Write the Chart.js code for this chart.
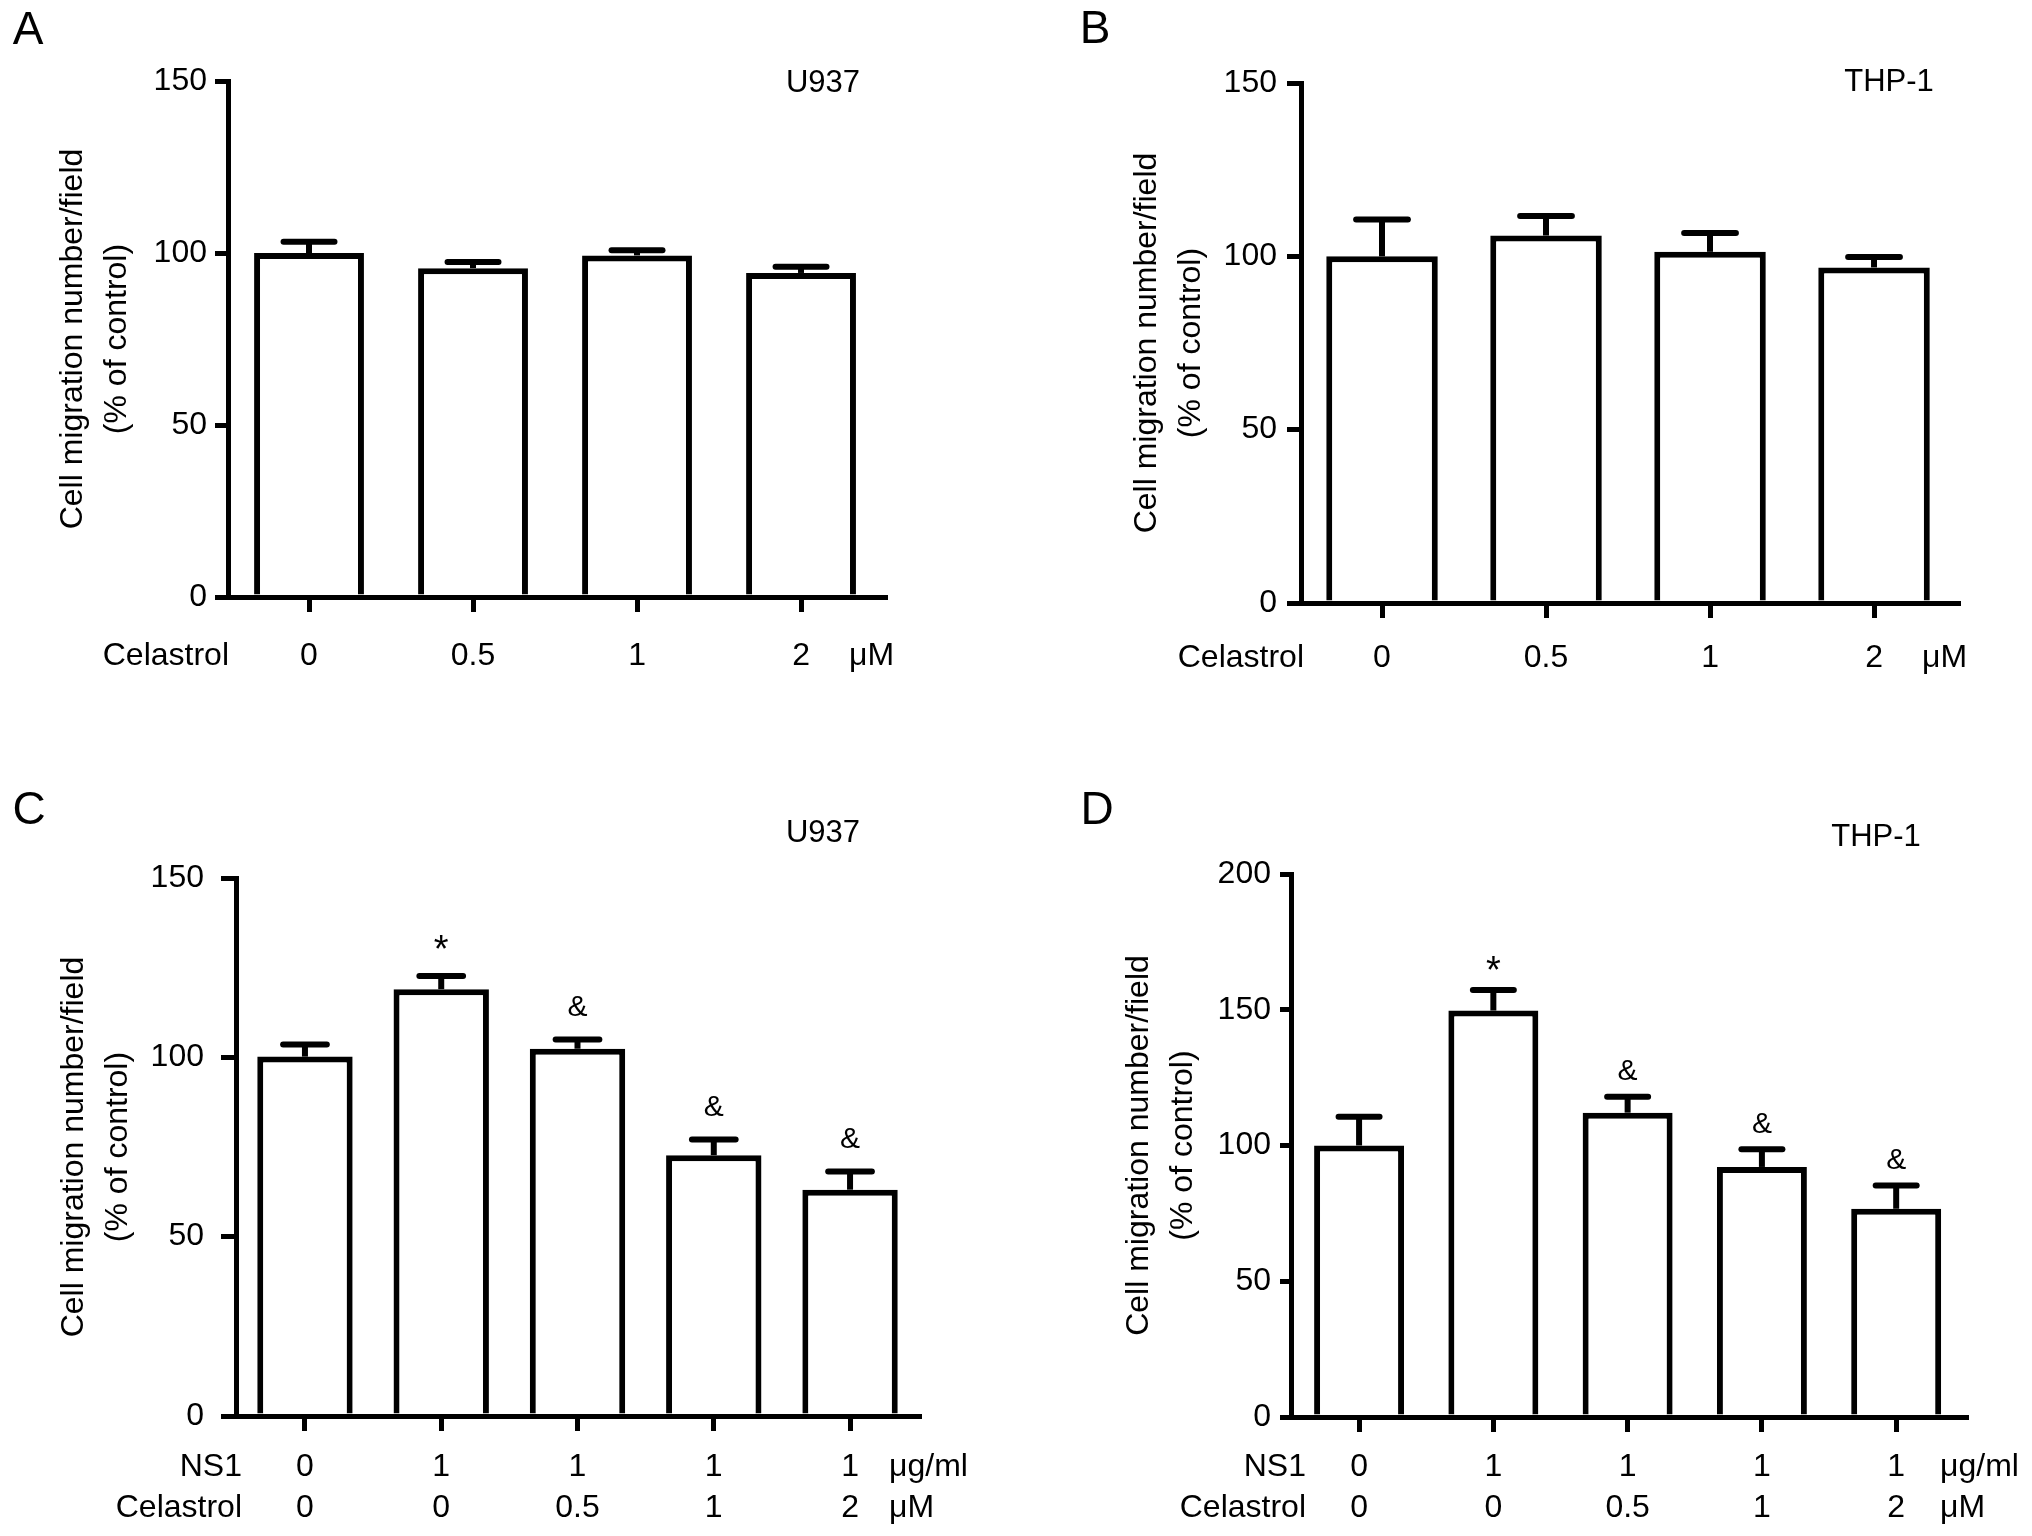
<!DOCTYPE html>
<html lang="en">
<head>
    <meta charset="UTF-8">
    <title>Cell migration - Celastrol / NS1</title>
    <script src="https://cdn.jsdelivr.net/npm/chart.js"></script>
    <style>
        body {
            margin: 0;
            background-color: #ffffff;
            width: 2032px;
            height: 1536px;
            position: relative;
            overflow: hidden;
        }
        canvas {
            position: absolute;
        }
        #panelA { left: 0; top: 0; }
        #panelB { left: 1016px; top: 0; }
        #panelC { left: 0; top: 768px; }
        #panelD { left: 1016px; top: 768px; }
    </style>
</head>
<body>
    <canvas id="panelA" width="1016" height="768"></canvas>
    <canvas id="panelB" width="1016" height="768"></canvas>
    <canvas id="panelC" width="1016" height="768"></canvas>
    <canvas id="panelD" width="1016" height="768"></canvas>
    <script>
        // data (% of control, mean and SEM)
        const celastrolDoses = ['0', '0.5', '1', '2'];
        const u937Mean = [100, 95.6, 99.3, 94.2];
        const u937Sem = [3.3, 1.8, 1.5, 1.8];
        const thp1Mean = [100, 106, 101.3, 96.8];
        const thp1Sem = [10.6, 5.6, 5.4, 3.0];

        const ns1Doses = ['0', '1', '1', '1', '1'];
        const celastrolWithNs1 = ['0', '0', '0.5', '1', '2'];
        const u937Ns1Mean = [100.2, 119, 102.4, 72.7, 63.1];
        const u937Ns1Sem = [3.4, 3.7, 2.6, 4.4, 5.1];
        const thp1Ns1Mean = [100, 149.7, 112.1, 92.1, 76.7];
        const thp1Ns1Sem = [10.6, 7.6, 5.9, 6.5, 8.6];
        const significance = ['', '*', '&', '&', '&'];

        const yTitle = ['Cell migration number/field', '(% of control)'];
        const FONT = "'Liberation Sans', Arial, Helvetica, sans-serif";

        Chart.defaults.font.family = FONT;
        Chart.defaults.color = '#000';

        // error bars, significance marks, dose rows, panel letters
        const panelDecor = {
            id: 'panelDecor',
            afterDatasetsDraw(chart, args, o) {
                const ctx = chart.ctx;
                const y = chart.scales.y;
                const meta = chart.getDatasetMeta(0);
                ctx.save();
                ctx.strokeStyle = '#000';
                ctx.fillStyle = '#000';
                ctx.lineWidth = 6;
                meta.data.forEach((bar, i) => {
                    const top = y.getPixelForValue(o.mean[i] + o.sem[i]);
                    const half = bar.width / 4 - 2;
                    ctx.lineCap = 'butt';
                    ctx.beginPath();
                    ctx.moveTo(bar.x, bar.y);
                    ctx.lineTo(bar.x, top);
                    ctx.stroke();
                    ctx.lineCap = 'round';
                    ctx.beginPath();
                    ctx.moveTo(bar.x - half, top);
                    ctx.lineTo(bar.x + half, top);
                    ctx.stroke();
                    if (o.marks && o.marks[i]) {
                        const m = o.marks[i];
                        ctx.font = (m === '*' ? '38px ' : '30px ') + FONT;
                        ctx.textAlign = 'center';
                        ctx.textBaseline = 'middle';
                        ctx.fillText(m, bar.x, top - o.markGap + (m === '*' ? 8 : 0));
                    }
                });
                ctx.restore();
            },
            afterDraw(chart, args, o) {
                const ctx = chart.ctx;
                const x = chart.scales.x;
                ctx.save();
                ctx.fillStyle = '#000';
                ctx.textBaseline = 'middle';

                ctx.font = '32px ' + FONT;
                o.rows.forEach((row) => {
                    ctx.textAlign = 'right';
                    ctx.fillText(row.label, o.labelRight, row.y);
                    ctx.textAlign = 'center';
                    row.values.forEach((v, i) => {
                        ctx.fillText(v, x.getPixelForValue(i), row.y);
                    });
                    ctx.textAlign = 'left';
                    ctx.fillText(row.unit, o.unitLeft, row.y);
                });

                ctx.font = '31px ' + FONT;
                ctx.textAlign = 'center';
                ctx.fillText(o.cell, o.cellPos[0], o.cellPos[1]);

                ctx.font = '46px ' + FONT;
                ctx.fillText(o.letter, o.letterPos[0], o.letterPos[1]);
                ctx.restore();
            }
        };

        function makePanel(id, p) {
            const canvas = document.getElementById(id);
            const W = canvas.width, H = canvas.height;
            const axisColor = '#000';
            return new Chart(canvas.getContext('2d'), {
                type: 'bar',
                data: {
                    datasets: [{
                        data: p.mean.map((v, i) => ({ x: i, y: v })),
                        backgroundColor: '#ffffff',
                        borderColor: '#000000',
                        borderWidth: 6,
                        barPercentage: p.barPct,
                        categoryPercentage: 1
                    }]
                },
                options: {
                    responsive: false,
                    animation: false,
                    devicePixelRatio: 1,
                    layout: {
                        padding: {
                            left: 0,
                            top: p.area.top,
                            right: W - p.area.right,
                            bottom: H - p.area.bottom - 30
                        }
                    },
                    plugins: {
                        legend: { display: false },
                        tooltip: { enabled: false },
                        panelDecor: p.decor
                    },
                    scales: {
                        x: {
                            type: 'linear',
                            min: p.xMin,
                            max: p.xMax,
                            offset: false,
                            z: 1,
                            grid: {
                                offset: false,
                                drawOnChartArea: false,
                                drawTicks: true,
                                tickLength: 15,
                                lineWidth: 5,
                                color: axisColor
                            },
                            border: { display: true, width: 5, color: axisColor },
                            ticks: { display: false },
                            afterBuildTicks: (s) => {
                                s.ticks = p.mean.map((v, i) => ({ value: i }));
                            },
                            afterFit: (s) => { s.height = 30; }
                        },
                        y: {
                            min: 0,
                            max: p.yMax,
                            z: 1,
                            grid: {
                                drawOnChartArea: false,
                                drawTicks: true,
                                tickLength: p.tickLen,
                                lineWidth: 5,
                                color: axisColor
                            },
                            border: { display: true, width: 5, color: axisColor },
                            ticks: {
                                stepSize: 50,
                                padding: p.tickPad,
                                color: '#000',
                                font: { size: 32 }
                            },
                            title: {
                                display: true,
                                text: yTitle,
                                color: '#000',
                                font: { size: 32, lineHeight: 1.35 },
                                padding: { top: p.titlePad, bottom: 0 }
                            },
                            afterFit: (s) => { s.width = p.area.left; }
                        }
                    }
                },
                plugins: [panelDecor]
            });
        }

        makePanel('panelA', {
            mean: u937Mean,
            area: { left: 228, right: 885, top: 81, bottom: 597 },
            xMin: -0.494, xMax: 3.512, barPct: 0.67, yMax: 150,
            tickLen: 13, tickPad: 8, titlePad: 52,
            decor: {
                mean: u937Mean, sem: u937Sem,
                rows: [{ label: 'Celastrol', values: celastrolDoses, unit: 'μM', y: 656 }],
                labelRight: 229, unitLeft: 849,
                cell: 'U937', cellPos: [823, 83],
                letter: 'A', letterPos: [28, 31]
            }
        });

        makePanel('panelB', {
            mean: thp1Mean,
            area: { left: 285, right: 942, top: 83, bottom: 603 },
            xMin: -0.494, xMax: 3.512, barPct: 0.68, yMax: 150,
            tickLen: 14, tickPad: 10, titlePad: 110,
            decor: {
                mean: thp1Mean, sem: thp1Sem,
                rows: [{ label: 'Celastrol', values: celastrolDoses, unit: 'μM', y: 658 }],
                labelRight: 288, unitLeft: 906,
                cell: 'THP-1', cellPos: [873, 82],
                letter: 'B', letterPos: [79, 30]
            }
        });

        makePanel('panelC', {
            mean: u937Ns1Mean,
            area: { left: 236, right: 919, top: 110, bottom: 648 },
            xMin: -0.506, xMax: 4.506, barPct: 0.70, yMax: 150,
            tickLen: 15, tickPad: 17, titlePad: 53,
            decor: {
                mean: u937Ns1Mean, sem: u937Ns1Sem,
                marks: significance, markGap: 32,
                rows: [
                    { label: 'NS1', values: ns1Doses, unit: 'μg/ml', y: 699 },
                    { label: 'Celastrol', values: celastrolWithNs1, unit: 'μM', y: 740 }
                ],
                labelRight: 242, unitLeft: 889,
                cell: 'U937', cellPos: [823, 65],
                letter: 'C', letterPos: [29, 43]
            }
        });

        makePanel('panelD', {
            mean: thp1Ns1Mean,
            area: { left: 275, right: 950, top: 106, bottom: 649 },
            xMin: -0.507, xMax: 4.52, barPct: 0.67, yMax: 200,
            tickLen: 11, tickPad: 9, titlePad: 102,
            decor: {
                mean: thp1Ns1Mean, sem: thp1Ns1Sem,
                marks: significance, markGap: 25,
                rows: [
                    { label: 'NS1', values: ns1Doses, unit: 'μg/ml', y: 699 },
                    { label: 'Celastrol', values: celastrolWithNs1, unit: 'μM', y: 740 }
                ],
                labelRight: 290, unitLeft: 924,
                cell: 'THP-1', cellPos: [860, 69],
                letter: 'D', letterPos: [81, 43]
            }
        });
    </script>
</body>
</html>
